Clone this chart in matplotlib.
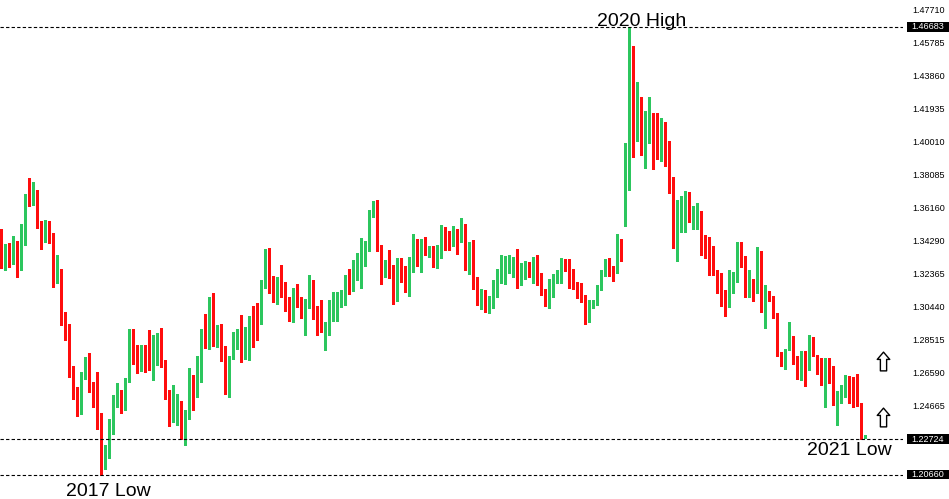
import matplotlib
matplotlib.use("Agg")
import matplotlib.pyplot as plt
import matplotlib.transforms as mtransforms
from matplotlib.patches import Rectangle
from matplotlib.path import Path
import numpy as np

# weekly candles (oldest first)
opens = [
    1.3453, 1.3337, 1.3352, 1.3304, 1.3395, 1.3309, 1.3478, 1.3657, 1.3647, 1.3697,
    1.3505, 1.3436, 1.3482, 1.3453, 1.3203, 1.3255, 1.2970, 1.2872, 1.2645, 1.2534,
    1.2418, 1.2645, 1.2662, 1.2558, 1.2470, 1.2412, 1.2145, 1.2180, 1.2319, 1.2476,
    1.2528, 1.2458, 1.2610, 1.2813, 1.2755, 1.2680, 1.2761, 1.2697, 1.2691, 1.2842,
    1.2866, 1.2709, 1.2528, 1.2400, 1.2453, 1.2470, 1.2302, 1.2429, 1.2586, 1.2552,
    1.2627, 1.2866, 1.2802, 1.3092, 1.2872, 1.2889, 1.2761, 1.2592, 1.2743, 1.2825,
    1.2842, 1.2767, 1.2866, 1.2959, 1.2947, 1.2988, 1.3180, 1.3267, 1.3145, 1.3075,
    1.3150, 1.3127, 1.3046, 1.2982, 1.3156, 1.3057, 1.3005, 1.3063, 1.3162, 1.3034,
    1.2924, 1.2842, 1.2912, 1.2994, 1.3088, 1.3087, 1.3081, 1.3203, 1.3145, 1.3215,
    1.3226, 1.3319, 1.3372, 1.3587, 1.3633, 1.3372, 1.3249, 1.3255, 1.3215, 1.3081,
    1.3267, 1.3249, 1.3127, 1.3267, 1.3412, 1.3325, 1.3424, 1.3343, 1.3377, 1.3319,
    1.3372, 1.3453, 1.3459, 1.3418, 1.3441, 1.3430, 1.3517, 1.3232, 1.3406, 1.3209,
    1.3064, 1.3069, 1.3023, 1.3052, 1.3156, 1.3203, 1.3191, 1.3261, 1.3284, 1.3313,
    1.3168, 1.3209, 1.3261, 1.3232, 1.3325, 1.3197, 1.3127, 1.3057, 1.3127, 1.3203,
    1.3215, 1.3290, 1.3267, 1.3249, 1.3168, 1.3145, 1.3069, 1.2976, 1.3040, 1.3052,
    1.3145, 1.3226, 1.3296, 1.3244, 1.3244, 1.3436, 1.3534, 1.3813, 1.4348, 1.4011,
    1.4221, 1.3918, 1.4005, 1.4087, 1.4081, 1.3924, 1.4104, 1.3988, 1.3767, 1.3401,
    1.3587, 1.3604, 1.3668, 1.3552, 1.3575, 1.3569, 1.3418, 1.3401, 1.3377, 1.3238,
    1.3168, 1.3087, 1.3040, 1.3168, 1.3185, 1.3377, 1.3296, 1.3121, 1.3185, 1.3121,
    1.3313, 1.3034, 1.3133, 1.3081, 1.2994, 1.2773, 1.2743, 1.2790, 1.2848, 1.2726,
    1.2697, 1.2732, 1.2709, 1.2784, 1.2755, 1.2680, 1.2604, 1.2726, 1.2651, 1.2464,
    1.2511, 1.2563, 1.2569, 1.2534, 1.2499, 1.2470, 1.2284,
]
closes = [
    1.3333, 1.3372, 1.3313, 1.3401, 1.3319, 1.3494, 1.3657, 1.3639, 1.3709, 1.3500,
    1.3441, 1.3488, 1.3453, 1.3203, 1.3267, 1.2953, 1.2866, 1.2639, 1.2528, 1.2424,
    1.2645, 1.2680, 1.2569, 1.2470, 1.2383, 1.2139, 1.2191, 1.2331, 1.2476, 1.2528,
    1.2464, 1.2621, 1.2813, 1.2749, 1.2674, 1.2773, 1.2709, 1.2680, 1.2848, 1.2866,
    1.2720, 1.2575, 1.2400, 1.2458, 1.2494, 1.2319, 1.2424, 1.2575, 1.2540, 1.2639,
    1.2883, 1.2802, 1.3092, 1.2883, 1.2889, 1.2767, 1.2604, 1.2755, 1.2831, 1.2848,
    1.2790, 1.2883, 1.2976, 1.2953, 1.2912, 1.3197, 1.3273, 1.3127, 1.3087, 1.3150,
    1.3121, 1.3052, 1.2988, 1.3133, 1.3052, 1.3023, 1.3040, 1.3162, 1.3023, 1.2906,
    1.2901, 1.2953, 1.3017, 1.3098, 1.3092, 1.3098, 1.3197, 1.3139, 1.3226, 1.3290,
    1.3319, 1.3389, 1.3598, 1.3639, 1.3366, 1.3261, 1.3261, 1.3215, 1.3087, 1.3267,
    1.3238, 1.3133, 1.3302, 1.3412, 1.3331, 1.3424, 1.3343, 1.3383, 1.3319, 1.3383,
    1.3459, 1.3418, 1.3412, 1.3465, 1.3430, 1.3517, 1.3267, 1.3406, 1.3209, 1.3092,
    1.3069, 1.3023, 1.3052, 1.3168, 1.3197, 1.3215, 1.3273, 1.3284, 1.3308, 1.3162,
    1.3278, 1.3261, 1.3226, 1.3308, 1.3197, 1.3116, 1.3052, 1.3139, 1.3226, 1.3220,
    1.3296, 1.3267, 1.3244, 1.3162, 1.3145, 1.3075, 1.2994, 1.3052, 1.3069, 1.3145,
    1.3226, 1.3302, 1.3249, 1.3215, 1.3395, 1.3412, 1.3802, 1.4331, 1.3994, 1.4203,
    1.3941, 1.4005, 1.4093, 1.4075, 1.3924, 1.4110, 1.3994, 1.3755, 1.3418, 1.3581,
    1.3604, 1.3686, 1.3540, 1.3593, 1.3581, 1.3406, 1.3406, 1.3377, 1.3255, 1.3180,
    1.3087, 1.3052, 1.3180, 1.3203, 1.3383, 1.3296, 1.3104, 1.3191, 1.3121, 1.3325,
    1.3052, 1.3133, 1.3087, 1.3005, 1.2773, 1.2755, 1.2778, 1.2854, 1.2726, 1.2686,
    1.2738, 1.2726, 1.2778, 1.2755, 1.2680, 1.2610, 1.2732, 1.2616, 1.2470, 1.2505,
    1.2569, 1.2569, 1.2528, 1.2499, 1.2470, 1.2284, 1.2290,
]
highs = [
    1.3494, 1.3406, 1.3411, 1.3453, 1.3424, 1.3523, 1.3697, 1.3790, 1.3767, 1.3719,
    1.3540, 1.3546, 1.3540, 1.3470, 1.3343, 1.3261, 1.3011, 1.2941, 1.2697, 1.2575,
    1.2662, 1.2749, 1.2773, 1.2604, 1.2662, 1.2424, 1.2238, 1.2389, 1.2528, 1.2598,
    1.2558, 1.2627, 1.2912, 1.2912, 1.2819, 1.2819, 1.2819, 1.2906, 1.2877, 1.2889,
    1.2918, 1.2732, 1.2558, 1.2586, 1.2534, 1.2494, 1.2441, 1.2686, 1.2645, 1.2755,
    1.2912, 1.2999, 1.3098, 1.3121, 1.2936, 1.2941, 1.2813, 1.2755, 1.2895, 1.2912,
    1.2994, 1.2924, 1.2988, 1.3046, 1.3063, 1.3197, 1.3377, 1.3383, 1.3220, 1.3214,
    1.3284, 1.3185, 1.3098, 1.3150, 1.3174, 1.3098, 1.3087, 1.3226, 1.3197, 1.3046,
    1.3081, 1.2953, 1.3081, 1.3127, 1.3127, 1.3139, 1.3226, 1.3261, 1.3313, 1.3354,
    1.3441, 1.3424, 1.3604, 1.3657, 1.3662, 1.3401, 1.3313, 1.3372, 1.3284, 1.3325,
    1.3325, 1.3278, 1.3331, 1.3465, 1.3436, 1.3436, 1.3447, 1.3395, 1.3395, 1.3401,
    1.3517, 1.3505, 1.3482, 1.3511, 1.3494, 1.3558, 1.3523, 1.3418, 1.3430, 1.3215,
    1.3145, 1.3139, 1.3104, 1.3197, 1.3261, 1.3343, 1.3337, 1.3343, 1.3331, 1.3377,
    1.3296, 1.3308, 1.3302, 1.3331, 1.3343, 1.3238, 1.3145, 1.3203, 1.3232, 1.3255,
    1.3325, 1.3319, 1.3319, 1.3261, 1.3185, 1.3180, 1.3110, 1.3081, 1.3081, 1.3168,
    1.3255, 1.3319, 1.3325, 1.3278, 1.3465, 1.3436, 1.3994, 1.4668, 1.4558, 1.4348,
    1.4261, 1.4180, 1.4261, 1.4168, 1.4168, 1.4139, 1.4116, 1.4005, 1.3796, 1.3662,
    1.3686, 1.3715, 1.3709, 1.3627, 1.3645, 1.3598, 1.3459, 1.3447, 1.3395, 1.3255,
    1.3238, 1.3139, 1.3255, 1.3244, 1.3418, 1.3418, 1.3337, 1.3255, 1.3203, 1.3389,
    1.3366, 1.3168, 1.3133, 1.3104, 1.3005, 1.2778, 1.2796, 1.2953, 1.2872, 1.2755,
    1.2784, 1.2784, 1.2877, 1.2866, 1.2761, 1.2743, 1.2743, 1.2743, 1.2697, 1.2552,
    1.2586, 1.2645, 1.2639, 1.2633, 1.2651, 1.2482, 1.2296,
]
lows = [
    1.3265, 1.3255, 1.3271, 1.3290, 1.3216, 1.3255, 1.3401, 1.3629, 1.3633, 1.3500,
    1.3377, 1.3418, 1.3412, 1.3156, 1.3180, 1.2936, 1.2848, 1.2633, 1.2505, 1.2406,
    1.2418, 1.2621, 1.2546, 1.2458, 1.2331, 1.2066, 1.2098, 1.2162, 1.2302, 1.2458,
    1.2424, 1.2441, 1.2604, 1.2709, 1.2656, 1.2668, 1.2662, 1.2674, 1.2616, 1.2703,
    1.2693, 1.2505, 1.2348, 1.2371, 1.2354, 1.2273, 1.2238, 1.2389, 1.2441, 1.2517,
    1.2604, 1.2802, 1.2796, 1.2813, 1.2807, 1.2726, 1.2534, 1.2517, 1.2738, 1.2796,
    1.2720, 1.2738, 1.2732, 1.2807, 1.2848, 1.2941, 1.3150, 1.3121, 1.3069, 1.3057,
    1.3098, 1.3017, 1.2959, 1.2953, 1.3040, 1.2976, 1.2877, 1.3034, 1.2970, 1.2877,
    1.2895, 1.2790, 1.2877, 1.2959, 1.2959, 1.3042, 1.3052, 1.3116, 1.3133, 1.3197,
    1.3150, 1.3278, 1.3366, 1.3563, 1.3366, 1.3174, 1.3215, 1.3209, 1.3057, 1.3075,
    1.3185, 1.3127, 1.3104, 1.3244, 1.3278, 1.3244, 1.3343, 1.3331, 1.3273, 1.3267,
    1.3325, 1.3372, 1.3372, 1.3395, 1.3349, 1.3418, 1.3255, 1.3232, 1.3145, 1.3052,
    1.3028, 1.3011, 1.3005, 1.3034, 1.3098, 1.3180, 1.3174, 1.3238, 1.3215, 1.3150,
    1.3168, 1.3203, 1.3215, 1.3180, 1.3168, 1.3110, 1.3046, 1.3034, 1.3098, 1.3180,
    1.3180, 1.3249, 1.3150, 1.3145, 1.3092, 1.3069, 1.2941, 1.2953, 1.3034, 1.3052,
    1.3139, 1.3220, 1.3220, 1.3191, 1.3238, 1.3308, 1.3511, 1.3720, 1.3912, 1.4005,
    1.3924, 1.3848, 1.3994, 1.3843, 1.3901, 1.3889, 1.3860, 1.3703, 1.3383, 1.3308,
    1.3476, 1.3476, 1.3534, 1.3494, 1.3494, 1.3343, 1.3325, 1.3226, 1.3226, 1.3121,
    1.3046, 1.2988, 1.3040, 1.3121, 1.3185, 1.3273, 1.3098, 1.3098, 1.3075, 1.3121,
    1.3011, 1.2918, 1.3075, 1.2976, 1.2755, 1.2697, 1.2680, 1.2790, 1.2709, 1.2621,
    1.2616, 1.2581, 1.2674, 1.2755, 1.2651, 1.2586, 1.2458, 1.2598, 1.2470, 1.2354,
    1.2482, 1.2517, 1.2482, 1.2458, 1.2464, 1.2275, 1.2278,
]

price_ticks = [1.47710, 1.45785, 1.43860, 1.41935, 1.40010, 1.38085, 1.36160,
               1.34290, 1.32365, 1.30440, 1.28515, 1.26590, 1.24665]
level_prices = [1.46683, 1.22724, 1.20660]
level_labels = ["2020 High", "2021 Low", "2017 Low"]
arrow_prices = [1.2726, 1.2400]

green = "#2cc65e"
red = "#ff0d0d"

o = np.array(opens)
c = np.array(closes)
h = np.array(highs)
l = np.array(lows)
x = np.arange(len(o))
up = c >= o
cols = np.where(up, green, red)

fig = plt.figure(figsize=(9.49, 4.99), dpi=100)
ax = fig.add_axes([0, 0, 903 / 949, 1])
ax.set_xlim(-0.333, -0.333 + 903 / 4)
ax.set_ylim(1.19236, 1.48253)

# wicks then bodies
ax.vlines(x, l, h, colors=cols, linewidth=1.0, antialiased=False)
body = np.maximum(np.abs(c - o), 0.0006)
ax.bar(x, body, bottom=np.minimum(o, c), width=0.75, color=cols,
       linewidth=0, antialiased=False)

# horizontal levels
for p in level_prices:
    ax.axhline(p, color="black", linewidth=0.8, linestyle=(0, (3, 2)))

# annotations
txt = dict(fontsize=14, family="Liberation Sans", color="black")
ax.text(642 / 903, 1.4672, level_labels[0], transform=ax.get_yaxis_transform(),
        ha="center", va="baseline", **txt)
ax.text(849 / 903, 1.2179, level_labels[1], transform=ax.get_yaxis_transform(),
        ha="center", va="baseline", **txt)
ax.text(108 / 903, 1.1940, level_labels[2], transform=ax.get_yaxis_transform(),
        ha="center", va="baseline", **txt)

# hollow up arrows
arrow = Path([(0, 1), (0.667, 0.222), (0.333, 0.222), (0.333, -1),
              (-0.333, -1), (-0.333, 0.222), (-0.667, 0.222), (0, 1)],
             [Path.MOVETO] + [Path.LINETO] * 6 + [Path.CLOSEPOLY])
ax.plot([220.4] * len(arrow_prices), arrow_prices, linestyle="none",
        marker=arrow, markersize=13.5, markerfacecolor="white",
        markeredgecolor="black", markeredgewidth=1.0)

# price scale on the right
ax.yaxis.tick_right()
ax.set_yticks(price_ticks)
ax.set_yticklabels(["%.5f" % p for p in price_ticks])
ax.tick_params(axis="y", length=0, pad=6.5, labelsize=6.5, labelcolor="black")
for lab in ax.get_yticklabels():
    lab.set_family("Liberation Sans")
ax.set_xticks([])
for s in ax.spines.values():
    s.set_visible(False)

trans = mtransforms.blended_transform_factory(ax.transAxes, ax.transData)
for p in level_prices:
    ax.add_patch(Rectangle((907 / 903, p - 0.0029), 42 / 903, 0.0058,
                           transform=trans, facecolor="black", edgecolor="none",
                           clip_on=False, zorder=5))
    ax.text(911.5 / 903, p, "%.5f" % p, transform=trans, color="white",
            fontsize=6.5, family="Liberation Sans", va="center", ha="left",
            clip_on=False, zorder=6)

fig.savefig("out.png", dpi=100, facecolor="white")
